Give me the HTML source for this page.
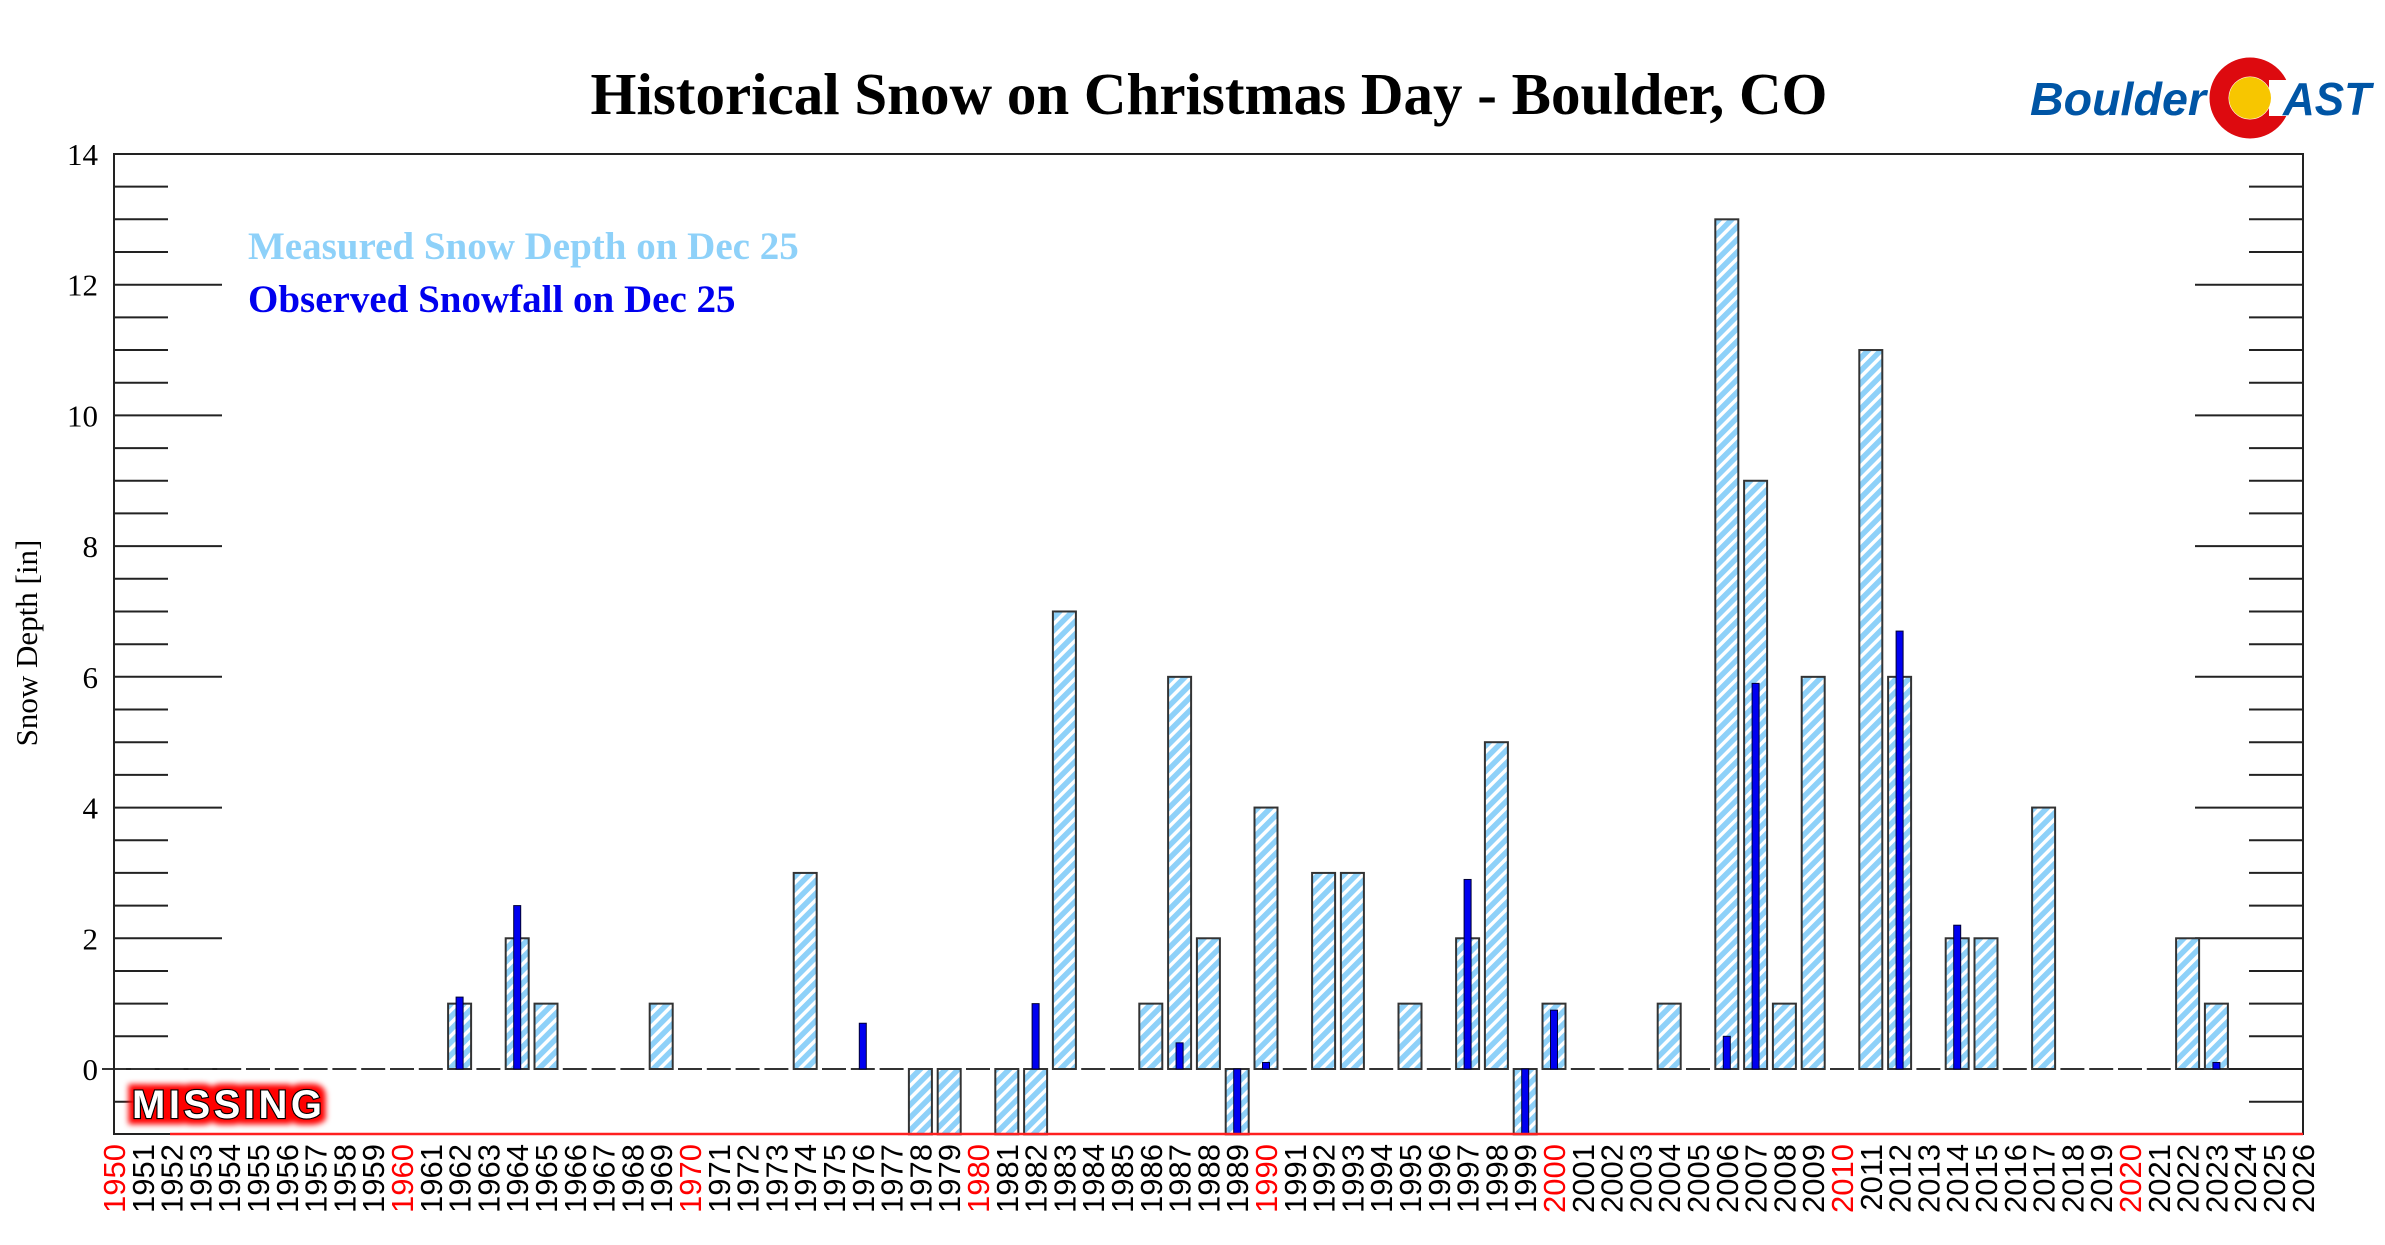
<!DOCTYPE html>
<html><head><meta charset="utf-8"><style>
html,body{margin:0;padding:0;background:#fff;width:2385px;height:1245px;overflow:hidden}
</style></head><body>
<svg id="s" width="2385" height="1245" viewBox="0 0 2385 1245" xmlns="http://www.w3.org/2000/svg">
<defs>
<pattern id="h" patternUnits="userSpaceOnUse" width="9" height="9" patternTransform="rotate(45)">
<rect width="9" height="9" fill="#fff"/><rect width="5.5" height="9" fill="#8ed1f9"/>
</pattern>
<filter id="glow" x="-20%" y="-40%" width="140%" height="180%">
<feMorphology in="SourceAlpha" operator="dilate" radius="5" result="d"/>
<feGaussianBlur in="d" stdDeviation="3" result="b"/>
<feFlood flood-color="#ff0000"/><feComposite in2="b" operator="in" result="r"/>
<feMerge><feMergeNode in="r"/><feMergeNode in="SourceGraphic"/></feMerge>
</filter>
</defs>
<text x="1209" y="114" text-anchor="middle" font-family="Liberation Serif,serif" font-weight="bold" font-size="59">Historical Snow on Christmas Day - Boulder, CO</text>
<text x="2030" y="115" font-family="Liberation Sans,sans-serif" font-weight="bold" font-style="italic" font-size="46" fill="#0055a5" textLength="176" lengthAdjust="spacingAndGlyphs">Boulder</text>
<circle cx="2250" cy="98" r="31" fill="none" stroke="#dd0a0f" stroke-width="19"/>
<rect x="2269" y="80" width="28" height="36" fill="#fff"/>
<circle cx="2250" cy="98" r="21" fill="#f7c600"/>
<text x="2283" y="115" font-family="Liberation Sans,sans-serif" font-weight="bold" font-style="italic" font-size="46" fill="#0055a5" textLength="88" lengthAdjust="spacingAndGlyphs">AST</text>
<text x="248" y="259" font-family="Liberation Serif,serif" font-weight="bold" font-size="39" fill="#8ed1f9">Measured Snow Depth on Dec 25</text>
<text x="248" y="312" font-family="Liberation Serif,serif" font-weight="bold" font-size="39" fill="#0000ee">Observed Snowfall on Dec 25</text>
<text transform="translate(37,643) rotate(-90)" text-anchor="middle" font-family="Liberation Serif,serif" font-size="31">Snow Depth [in]</text>
<g id="g"></g>
<text x="132" y="1118" font-family="Liberation Sans,sans-serif" font-weight="bold" font-size="40" fill="#fff" stroke="#000" stroke-width="2.5" paint-order="stroke" filter="url(#glow)" textLength="190">MISSING</text>
</svg>
<script>
var g=document.getElementById('g'),h='';
var L=114,R=2303,T=154,Z=1069,U=65.36,B=1134,S=28.8;
function y(v){return Z-v*U}
function X(yr){return L+(yr-1950)*S}
for(var v=-0.5;v<=14.01;v+=0.5){var yy=y(v).toFixed(1),maj=(Math.abs(v%2)<0.01);var len=maj?108:54;
h+='<line x1="'+L+'" x2="'+(L+len)+'" y1="'+yy+'" y2="'+yy+'" stroke="#222" stroke-width="2"/>';
h+='<line x1="'+R+'" x2="'+(R-len)+'" y1="'+yy+'" y2="'+yy+'" stroke="#222" stroke-width="2"/>';
if(maj)h+='<text x="'+(L-16)+'" y="'+(y(v)+11)+'" text-anchor="end" font-family="Liberation Serif,serif" font-size="31">'+v+'</text>';}
var d={1962:[1,1.1],1964:[2,2.5],1965:[1],1969:[1],1974:[3],1976:[0,0.7],1978:[-1],1979:[-1],1981:[-1],1982:[-1,1],1983:[7],1986:[1],1987:[6,0.4],1988:[2],1989:[-1,-1],1990:[4,0.1],1992:[3],1993:[3],1995:[1],1997:[2,2.9],1998:[5],1999:[-1,-1],2000:[1,0.9],2004:[1],2006:[13,0.5],2007:[9,5.9],2008:[1],2009:[6],2011:[11],2012:[6,6.7],2014:[2,2.2],2015:[2],2017:[4],2022:[2],2023:[1,0.1]};
for(var yr=1950;yr<=2023;yr++){var c=X(yr);var e=d[yr];
if(!e||e[0]==0)h+='<line x1="'+(c-12)+'" x2="'+(c+12)+'" y1="'+Z+'" y2="'+Z+'" stroke="#333" stroke-width="2"/>';
if(e&&e[0]!=0){var a=Math.min(y(e[0]),Z),b=Math.abs(e[0])*U;
h+='<rect x="'+(c-11.5)+'" y="'+a+'" width="23" height="'+b+'" fill="url(#h)" stroke="#333" stroke-width="2"/>';}
if(e&&e[1]){var a2=Math.min(y(e[1]),Z),b2=Math.abs(e[1])*U;
h+='<rect x="'+(c-3.5)+'" y="'+a2+'" width="7" height="'+b2+'" fill="#0000f0" stroke="#000033" stroke-width="1"/>';}}
h+='<rect x="'+L+'" y="'+T+'" width="'+(R-L)+'" height="'+(B-T)+'" fill="none" stroke="#222" stroke-width="2"/>';
h+='<line x1="170" x2="'+R+'" y1="'+B+'" y2="'+B+'" stroke="#ff2020" stroke-width="2.5"/>';
for(var yr=1950;yr<=2026;yr++){var c=X(yr);
h+='<text transform="translate('+(c+11)+',1144) rotate(-90)" text-anchor="end" font-family="Liberation Sans,sans-serif" font-size="31" fill="'+(yr%10==0?'#ff0000':'#000')+'">'+yr+'</text>';}
g.innerHTML=h;
</script>
</body></html>
